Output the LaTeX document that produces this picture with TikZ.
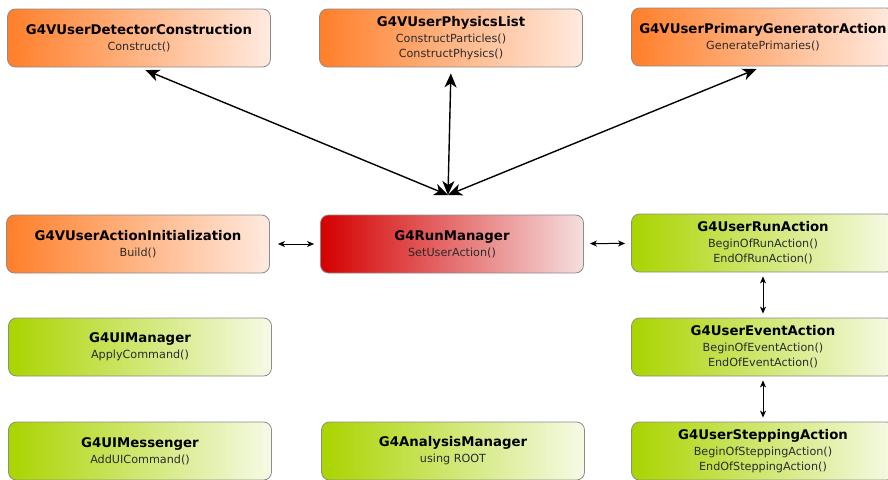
\documentclass[tikz,border=0pt]{standalone}
\usepackage{fontspec}
\setmainfont{DejaVu Sans}
\usepackage{tikz}
\usetikzlibrary{positioning,arrows.meta,calc}
\definecolor{orL}{HTML}{FF7F2A}
\definecolor{orR}{HTML}{FFEADF}
\definecolor{rdL}{HTML}{D40000}
\definecolor{rdR}{HTML}{F6DEDE}
\definecolor{grL}{HTML}{AAD400}
\definecolor{grR}{HTML}{F6FAE6}
\definecolor{subtxt}{HTML}{2B2B2B}
\tikzset{box/.style = {rectangle,rounded corners=8pt,draw=black!45,line width=0.8pt,
                       minimum width=263pt,minimum height=58pt,align=center,inner sep=2pt,
                       font=\fontsize{11.2}{15}\selectfont,text=subtxt},
         obox/.style = {box,left color=orL,right color=orR},
         rbox/.style = {box,left color=rdL,right color=rdR},
         gbox/.style = {box,left color=grL,right color=grR},
         bigarr/.style = {line width=1.4pt,{Stealth[length=14pt,width=12pt,inset=4pt]}-{Stealth[length=14pt,width=12pt,inset=4pt]}},
         smallarr/.style = {line width=1pt,{Stealth[length=7pt,width=6pt,inset=2pt]}-{Stealth[length=7pt,width=6pt,inset=2pt]}}}
\newcommand{\cls}[2]{{\fontsize{13.3}{16}\selectfont\bfseries\color{black}#1}\\[1pt]#2}

\begin{document}
\begin{tikzpicture}[x=1pt,y=-1pt]
    \useasboundingbox (0,0) rectangle (888,479);
    \clip (0,0) rectangle (888,479);

    \node [obox] (det)  at (139,38)  {\cls{G4VUserDetectorConstruction}{Construct()}};
    \node [obox] (phys) at (451,38)  {\cls{G4VUserPhysicsList}{ConstructParticles()\\ConstructPhysics()}};
    \node [obox] (gen)  at (763,37)  {\cls{G4VUserPrimaryGeneratorAction}{GeneratePrimaries()}};

    \node [obox] (init) at (138,244) {\cls{G4VUserActionInitialization}{Build()}};
    \node [rbox] (run)  at (452,244) {\cls{G4RunManager}{SetUserAction()}};
    \node [gbox] (ract) at (763,243) {\cls{G4UserRunAction}{BeginOfRunAction()\\EndOfRunAction()}};

    \node [gbox] (uim)  at (140,347) {\cls{G4UIManager}{ApplyCommand()}};
    \node [gbox] (eact) at (763,347) {\cls{G4UserEventAction}{BeginOfEventAction()\\EndOfEventAction()}};

    \node [gbox] (uimsg) at (140,451) {\cls{G4UIMessenger}{AddUICommand()}};
    \node [gbox] (ana)   at (453,451) {\cls{G4AnalysisManager}{using ROOT}};
    \node [gbox] (sact)  at (763,451) {\cls{G4UserSteppingAction}{BeginOfSteppingAction()\\EndOfSteppingAction()}};

    \coordinate (hub) at (448,195);
    \draw [bigarr,shorten <=7pt] (det.south)  -- (hub);
    \draw [bigarr,shorten <=6pt] (phys.south) -- (hub);
    \draw [bigarr,shorten <=7pt] (gen.south)  -- (hub);

    \draw [smallarr,shorten <=8pt,shorten >=6pt] (init) -- (run);
    \draw [smallarr,shorten <=6pt,shorten >=6pt] (run) -- (ract);
    \draw [smallarr,shorten <=4pt,shorten >=4pt] (ract) -- (eact);
    \draw [smallarr,shorten <=4pt,shorten >=4pt] (eact) -- (sact);
\end{tikzpicture}
\end{document}
